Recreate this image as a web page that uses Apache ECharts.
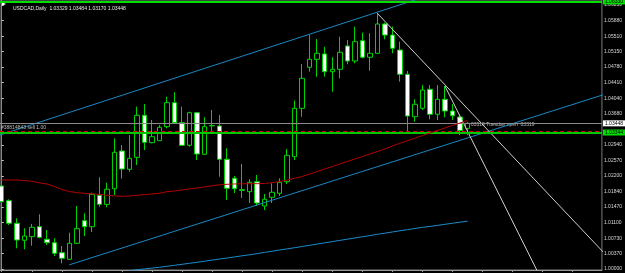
<!DOCTYPE html>
<html><head><meta charset="utf-8">
<script src="https://cdn.jsdelivr.net/npm/echarts@6/dist/echarts.min.js"></script>
<style>html,body{margin:0;padding:0;background:#000;}#c{width:625px;height:273px;}</style>
</head><body><div id="c"></div>
<script>
// ---- data (USDCAD daily) ----
const titleText = 'USDCAD,Daily  1.03329 1.03484 1.03170 1.03448';
const opens = [1.01965,1.01617,1.01082,1.00679,1.00764,1.01001,1.00703,1.00622,1.00386,1.00229,
1.00608,1.01143,1.01001,1.01745,1.01531,1.01901,1.02793,1.02360,1.02644,1.03638,
1.02990,1.03037,1.03369,1.03937,1.03463,1.02928,1.03700,1.02715,1.03387,1.03385,
1.02597,1.02147,1.01877,1.01830,1.02066,1.01491,1.01697,1.01792,1.02066,1.02658,
1.03804,1.04775,1.04964,1.05090,1.04671,1.04727,1.05279,1.04924,1.05405,1.05012,
1.05106,1.05800,1.05539,1.05184,1.04609,1.03605,1.03804,1.04254,1.03662,1.04017,
1.03740,1.03598,1.03329];
const closes = [1.01593,1.01082,1.00686,1.00781,1.00987,1.00750,1.00622,1.00371,1.00253,1.00608,
1.00954,1.01001,1.01768,1.01531,1.01887,1.02762,1.02367,1.02620,1.03638,1.02999,
1.03132,1.03354,1.03937,1.03463,1.02928,1.03700,1.02722,1.03369,1.03397,1.02597,
1.01910,1.01901,1.01863,1.02052,1.01562,1.01650,1.01816,1.02052,1.02691,1.03804,
1.04514,1.04964,1.05106,1.04671,1.04727,1.05130,1.04924,1.05381,1.05012,1.05106,
1.05800,1.05539,1.05225,1.04609,1.03622,1.03899,1.04237,1.03662,1.04017,1.03740,
1.03629,1.03279,1.03448];
const lows = [1.01539,1.01041,1.00490,1.00466,1.00551,1.00727,1.00568,1.00308,1.00135,1.00213,
1.00592,1.00781,1.00876,1.01475,1.01460,1.01752,1.02138,1.02303,1.02462,1.02817,
1.02976,1.03030,1.03331,1.03449,1.02912,1.02895,1.02580,1.02699,1.03212,1.02185,
1.01633,1.01799,1.01681,1.01562,1.01491,1.01397,1.01562,1.01728,1.02012,1.02580,
1.03605,1.04671,1.04552,1.04552,1.04197,1.04514,1.04846,1.04869,1.04988,1.04694,
1.05090,1.05438,1.05106,1.04434,1.03250,1.03487,1.03764,1.03544,1.03527,1.03591,
1.03527,1.03172,1.03170];
const highs = [1.02012,1.01650,1.01200,1.00963,1.01065,1.01295,1.00923,1.00727,1.00544,1.00859,
1.01491,1.01318,1.01806,1.02171,1.02043,1.03094,1.02935,1.03172,1.03842,1.03906,
1.03527,1.03409,1.04079,1.04183,1.03842,1.03724,1.03717,1.03591,1.03764,1.03646,
1.02857,1.02201,1.02486,1.02123,1.02225,1.01775,1.02029,1.02147,1.02841,1.03989,
1.04853,1.05539,1.05445,1.05262,1.05012,1.05499,1.05421,1.05736,1.05594,1.05580,
1.06053,1.05831,1.05736,1.05381,1.04687,1.04017,1.04356,1.04356,1.04356,1.04332,
1.03906,1.03662,1.03484];
const maRed = [1.02107,1.02107,1.02107,1.02095,1.02078,1.02040,1.02012,1.01953,1.01882,1.01834,
1.01806,1.01792,1.01780,1.01766,1.01745,1.01728,1.01721,1.01728,1.01745,1.01759,
1.01775,1.01794,1.01830,1.01846,1.01870,1.01894,1.01917,1.01941,1.01972,1.01993,
1.02005,1.02012,1.02017,1.02019,1.02019,1.02024,1.02043,1.02071,1.02107,1.02147,
1.02190,1.02249,1.02308,1.02367,1.02426,1.02486,1.02545,1.02604,1.02663,1.02722,
1.02781,1.02841,1.02912,1.02976,1.03037,1.03096,1.03160,1.03219,1.03279,1.03338,
1.03397,1.03456,1.03515];
const maBlue = [null,null,null,null,null,null,null,null,null,null,null,null,null,null,null,null,null,
0.99962,0.99983,1.00002,1.00021,1.00040,1.00064,1.00087,1.00111,1.00135,1.00158,
1.00184,1.00210,1.00236,1.00260,1.00286,1.00312,1.00336,1.00364,1.00393,1.00421,
1.00450,1.00476,1.00504,1.00532,1.00561,1.00589,1.00620,1.00648,1.00677,1.00705,
1.00734,1.00762,1.00790,1.00821,1.00847,1.00876,1.00904,1.00930,1.00959,1.00985,
1.01008,1.01032,1.01058,1.01082,1.01108,1.01131];
// trend lines: anchor points [bar index, price]
const channelUpper = [[-0.23, 1.03172], [60, 1.06659]];
const channelLower = [[9, 1.00099], [82, 1.04234]];
const fanLine1 = [[50, 1.06053], [82, 1.00038]];
const fanLine2 = [[59, 1.04332], [75, 0.98631]];
// price levels
const bidPrice = 1.03448, bidLabel = '1.03448';
const orderPrice = 1.03231, orderLabel = '1.03344';
const stopPrice = 1.03267, orderText = '#38814843 sell 1.00';
const topPrice = 1.06334, topLabel = '1.06330';
const tuesdayText = '03319 Tuesday open  03319';
const tickLabels = ['1.00000','1.00370','1.00730','1.01100','1.01470','1.01840','1.02200','1.02570','1.02940',
'1.03680','1.04040','1.04410','1.04780','1.05150','1.05510','1.05880','1.06250'];
const xTicks = [0,4,8,12,16,20,24,28,32,36,40,44,48,52,56,60,64,68,72,76];

const tickVals = tickLabels.map(Number);
const candles = opens.map((o, i) => [i, o, closes[i], lows[i], highs[i]]);
const FONT = 'Liberation Sans';
const chart = echarts.init(document.getElementById('c'));
function trend(data, color) {
  return {type:'line', data, showSymbol:false, symbol:'none', clip:true, silent:true, z:4,
    lineStyle:{color, width:1}, animation:false};
}
const boxLabel = (text, bg) => ({show:true, position:'end', distance:1, formatter:text, backgroundColor:bg, color:'#000', fontSize:5, padding:[1,2,0,2], fontFamily:FONT});
chart.setOption({
  backgroundColor:'#000',
  animation:false,
  title:{text:titleText, left:8, top:1, textStyle:{color:'#e8e8e8', fontSize:5, fontWeight:'normal', fontFamily:FONT}},
  grid:{left:0, top:0, width:603, height:270, show:true, borderColor:'#7a7a7a', borderWidth:1, backgroundColor:'transparent'},
  xAxis:{type:'value', min:-0.23, max:79.9,
    axisLine:{show:true, lineStyle:{color:'#9a9a9a'}},
    axisTick:{show:true, customValues:xTicks, length:2, lineStyle:{color:'#9a9a9a'}},
    axisLabel:{show:false}, splitLine:{show:false}},
  yAxis:{type:'value', position:'right', min:0.99976, max:1.06368, scale:true,
    axisLine:{show:true, lineStyle:{color:'#8a8a8a'}},
    axisTick:{show:true, customValues:tickVals, length:2, lineStyle:{color:'#cfcfcf'}},
    axisLabel:{customValues:tickVals, formatter:(v)=>tickLabels[tickVals.indexOf(v)] ?? v.toFixed(5), color:'#d8d8d8', fontSize:5, margin:2, fontFamily:FONT},
    splitLine:{show:false}},
  series:[
    {type:'line', name:'levels', data:[], silent:true, z:2,
      markLine:{symbol:['none','none'], silent:true, animation:false, precision:5,
        data:[
          {yAxis:topPrice, lineStyle:{color:'#00e000', width:2, type:'solid'}, label:boxLabel(topLabel, '#00e000')},
          {yAxis:bidPrice, lineStyle:{color:'#8c8c8c', width:1, type:'solid'}, label:boxLabel(bidLabel, '#ffffff')},
          {yAxis:stopPrice, lineStyle:{color:'#d00000', width:1, type:[4,3]},
            label:{show:true, position:'insideStartTop', distance:1, formatter:orderText, color:'#bdbdbd', fontSize:5, fontFamily:FONT}},
          {yAxis:orderPrice, lineStyle:{color:'#00c800', width:2, type:'solid'}, label:boxLabel(orderLabel, '#00e000')}
        ]}},
    {type:'candlestick', data:candles, barWidth:5, z:3, animation:false,
      itemStyle:{color:'#000', color0:'#ffffff', borderColor:'#00d400', borderColor0:'#00d400', borderWidth:1}},
    {type:'line', data:maRed.map((v,i)=>[i,v]), showSymbol:false, symbol:'none', z:5, clip:true, lineStyle:{color:'#b40000', width:1}},
    {type:'line', data:maBlue.map((v,i)=>[i,v]), showSymbol:false, symbol:'none', z:5, clip:true, lineStyle:{color:'#1a8ccc', width:1}},
    trend(channelUpper, '#1a88c4'),
    trend(channelLower, '#1a88c4'),
    trend(fanLine1, '#cfcfcf'),
    trend(fanLine2, '#cfcfcf')
  ],
  graphic:[
    {type:'polygon', shape:{points:[[2,2],[6,4],[2,6]]}, style:{fill:'#ffffff'}},
    {type:'text', left:471, top:122, style:{text:tuesdayText, fill:'#bdbdbd', font:'5px "Liberation Sans"'}}
  ]
});
</script></body></html>
